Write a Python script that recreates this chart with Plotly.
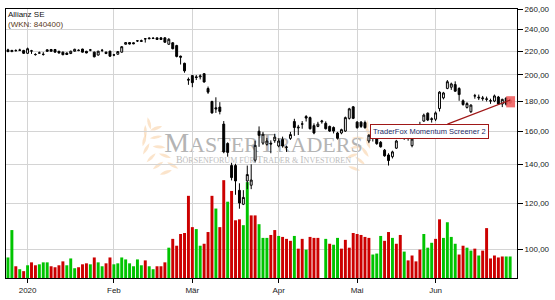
import math
import pandas as pd
import plotly.graph_objects as go

# ---------------- data ----------------
holidays = ["2019-12-24", "2019-12-25", "2019-12-26", "2019-12-31", "2020-01-01",
            "2020-04-10", "2020-04-13", "2020-05-01"]
dates = [d.strftime("%Y-%m-%d") for d in pd.bdate_range("2019-12-19", "2020-06-26")
         if d.strftime("%Y-%m-%d") not in holidays]

opens = [221, 219.5, 220.3, 220.8, 220.5, 218, 220, 217, 218.2, 217,
         221, 221.3, 221.3, 219.8, 219, 218.2, 217.8, 219.8, 220.5, 221.7,
         219.7, 220.8, 219, 216.5, 220.5, 219, 219.8, 216.5, 217.2, 219,
         226, 227.5, 227.3, 229, 228.5, 231, 231, 231.5, 230.3, 231.8,
         231.8, 226, 227.3, 224.8, 215.5, 209.5, 196.5, 199.5, 198.5, 198.5,
         201, 189.5, 180, 175.5, 176, 164.5, 152.3, 139.5, 139.5, 126.4,
         119.6, 131.2, 129, 142.5, 159.9, 152.5, 151.8, 152.5, 154, 150.8,
         154.8, 150, 155.4, 166.2, 162, 164.5, 169.5, 168.8, 163.5, 163,
         166, 165, 163, 162.3, 158.8, 158.8, 160, 168.3, 176.2, 165.8,
         165.8, 165.5, 153.8, 155.8, 155, 153, 148.3, 145.5, 144.5, 149.5,
         156, 158, 157, 151, 156, 162, 166.5, 171.8, 167.5, 167.7,
         175, 182.6, 189.6, 190.5, 192.5, 189.5, 180.5, 175.8, 172.8, 184,
         182.5, 182, 181.5, 180.3, 180.3, 183.2, 178.2, 182.5, 179]
highs = [222, 221, 221.5, 222, 221, 223, 221, 218, 219.5, 219,
         221.5, 221.8, 221.8, 220, 219.5, 218.8, 220.3, 222, 221.5, 222,
         220.2, 221.8, 219.5, 220.2, 221.8, 219.5, 220.3, 217.5, 220, 224.3,
         228, 228, 227.8, 229.8, 230.2, 231.3, 232.3, 232.5, 232.3, 232.5,
         232.5, 231.5, 228, 225.5, 216, 210, 198, 200, 200, 200.5,
         201.5, 191, 180.5, 183, 179.5, 166.5, 153, 141, 140.5, 130,
         126.5, 139.5, 140.2, 154, 163, 159.5, 155.7, 154.2, 158.3, 155.5,
         156.5, 151, 159.5, 168, 164, 166.5, 170.5, 169.5, 165, 166,
         167.3, 166.3, 163.5, 163, 159.5, 161.5, 169.5, 175.5, 176.8, 166.5,
         166.5, 166.8, 158, 157, 155.8, 153.8, 149, 146.5, 148, 154.5,
         161, 160, 159, 156, 163, 166, 171.5, 172.3, 169, 173,
         187.5, 187, 196, 194, 195, 190.5, 181.5, 179.5, 178, 185.5,
         185, 184, 183.5, 182, 185, 184, 182, 183, 182]
lows = [219, 219, 219.5, 220, 217.5, 217.5, 217.5, 216, 218, 216,
        219.5, 219.5, 218.7, 218, 216.3, 216.5, 217.3, 219.5, 219.8, 218.7,
        218, 219.8, 214.5, 216, 219, 217.3, 215, 215.5, 216.8, 218.5,
        225.7, 225.8, 226, 228, 228, 227.5, 230.5, 230.7, 230, 230,
        227.3, 225.5, 221.5, 214.5, 208.5, 201.8, 192.3, 190.5, 196, 196.5,
        194, 185.5, 171.5, 172, 171, 146.5, 144.5, 131.5, 124.2, 117.5,
        119.2, 127, 127, 141.2, 150.3, 151.5, 151, 146.5, 152.7, 150,
        149.8, 147.3, 154.5, 157, 157.5, 161.5, 166.2, 161, 158, 162.5,
        164.8, 161, 159.5, 158.5, 154.7, 158, 159.5, 167.5, 167.8, 161.5,
        162, 161.5, 152.5, 153.5, 151.5, 149.8, 144.5, 139.5, 143.5, 149,
        155, 154.5, 154, 150, 155.5, 161, 166, 166.5, 165.5, 166.5,
        173, 181.5, 189, 188.5, 187, 180.5, 177, 175, 172, 182,
        181, 180.5, 180, 178.3, 179.5, 177.8, 176, 177, 178.5]
closes = [219.5, 220.5, 220.4, 220.7, 218, 222, 220.1, 216.9, 218.3, 217.1,
          219.8, 219.8, 219, 218.2, 216.8, 217, 219.8, 221.5, 220.6, 219,
          218.3, 220.9, 215, 219.8, 220.6, 217.8, 215.5, 216.6, 219.5, 223.8,
          227.5, 226.2, 226.5, 229.1, 229.2, 230.9, 231.5, 231.3, 231.8, 230.3,
          227.8, 230.5, 222, 215.3, 214.7, 203.3, 196, 194, 198, 199.2,
          194.5, 186.8, 172, 174.8, 173, 147.3, 147, 133, 131.2, 120.2,
          122.9, 134.6, 131.7, 151.2, 157.3, 158, 153.8, 152, 156.2, 153.8,
          150.8, 150.1, 157.8, 162.3, 162.5, 164.6, 168.5, 161.5, 158.8, 164.5,
          166.5, 161.5, 160, 160, 155.5, 160.9, 168.8, 174.8, 168.3, 162.2,
          163, 162.2, 157.4, 155.5, 152.2, 150.3, 145, 142.3, 147.3, 153.8,
          160, 155.5, 156, 155, 162, 164, 170.5, 167.2, 168, 172,
          186.8, 186.2, 194.7, 193, 187.5, 185, 177.8, 178.5, 177.4, 184.1,
          183, 182.5, 181.8, 180.5, 184, 178.2, 181.5, 178, 181]
# volume in thousand shares
volume = [525, 1225, 300, 225, 175, 325, 400, 325, 350, 400,
          400, 300, 275, 325, 425, 325, 500, 250, 275, 350,
          375, 350, 525, 400, 300, 375, 525, 350, 375, 525,
          475, 375, 300, 475, 325, 450, 300, 225, 300, 300,
          400, 775, 1000, 825, 1125, 1150, 2100, 1300, 1250, 825,
          875, 1175, 2100, 1775, 1300, 2500, 1950, 2225, 1475, 1500,
          1350, 2450, 1600, 1600, 1375, 1025, 1025, 1100, 1225, 1075,
          1050, 1000, 950, 1075, 750, 1000, 725, 1050, 1025, 1025,
          0, 1000, 875, 850, 1025, 750, 975, 775, 1150, 1125,
          1100, 1050, 1025, 600, 625, 1075, 950, 1175, 1025, 875,
          1100, 675, 450, 575, 425, 725, 1125, 775, 900, 1000,
          1500, 1025, 1425, 1050, 875, 600, 825, 775, 700, 750,
          575, 700, 1275, 500, 575, 525, 550, 550, 550]
# volume bar direction (g = up, r = down)
vol_dir = list("ggrgrgrrgggrrrrgggrrrgrggrrgggggggg"
               "rggrrrgrrrrrrggrrrgrrgrrrggrrgggrrgrrr"
               "grrgrrrggrggrrrrrrrrgggrrgrrgrrrrgggrr"
               "ggggrrggrgrrrrrrggrgrgrggg")

month_ticks = ["2020-01-02", "2020-02-03", "2020-03-02", "2020-04-01", "2020-05-04", "2020-06-01"]
month_labels = ["2020", "Feb", "Mär", "Apr", "Mai", "Jun"]
price_ticks = [100, 120, 140, 160, 180, 200, 220, 240, 260]

n = len(dates)
assert all(len(a) == n for a in (opens, highs, lows, closes, volume)), \
    [len(a) for a in (dates, opens, highs, lows, closes, volume, vol_dir)]
vol_dir = (vol_dir + ["g"] * n)[:n]
xi = list(range(n))                      # trading-day index of each date
tick_idx = [dates.index(d) for d in month_ticks]

# ---------------- layout geometry ----------------
W, H = 555, 300
ML, MR, MT, MB = 5, 29, 5, 20
PW, PH = W - ML - MR, H - MT - MB


def px2paper(px, py):
    return (px - ML) / PW, 1 - (py - MT) / PH


GREEN = "#00c400"
RED = "#cc0000"

fig = go.Figure()
fig.add_trace(go.Bar(
    x=xi, y=volume, yaxis="y",
    marker=dict(color=[GREEN if d == "g" else RED for d in vol_dir], line=dict(width=0)),
    hoverinfo="skip", showlegend=False))

# highlight of the last candle (drawn under the candles)
last = n - 1
hx0, hx1 = last - 1.0, last + 1.25
hy0, hy1 = lows[last] * 0.985, highs[last] * 1.01
fig.add_trace(go.Scatter(
    x=[hx0, hx1, hx1, hx0, hx0], y=[hy0, hy0, hy1, hy1, hy0], yaxis="y2",
    mode="lines", fill="toself", fillcolor="rgba(240,95,95,0.9)", line=dict(width=0),
    hoverinfo="skip", showlegend=False))

fig.add_trace(go.Candlestick(
    x=xi, open=opens, high=highs, low=lows, close=closes, yaxis="y2",
    increasing=dict(line=dict(color="black", width=1), fillcolor="white"),
    decreasing=dict(line=dict(color="black", width=1), fillcolor="black"),
    whiskerwidth=0, hoverinfo="skip", showlegend=False))

shapes = []
# watermark laurel leaves (decoration)
leaves_left = [(168, 172, 200), (160, 165, 215), (153, 157, 225), (148, 148, 240), (146, 139, 255),
               (147, 130, 270), (151, 122, 285), (175, 165, 150), (167, 155, 160), (161, 146, 175),
               (158, 136, 190), (158, 127, 200)]
leaves_right = [(360, 168, 340), (366, 160, 320), (371, 151, 305), (374, 142, 290), (375, 133, 280),
                (373, 125, 265), (358, 155, 20), (362, 146, 10), (364, 137, 0)]
for cx, cy, ang in leaves_left + leaves_right:
    a = math.radians(ang)
    ux, uy = math.cos(a), -math.sin(a)
    nx, ny = -uy, ux
    L, Wd = 6.5, 3.2
    p1 = (cx - L * ux, cy - L * uy)
    p2 = (cx + L * ux, cy + L * uy)
    c1 = (cx + Wd * nx, cy + Wd * ny)
    c2 = (cx - Wd * nx, cy - Wd * ny)
    P = [px2paper(*p) for p in (p1, c1, p2, c2)]
    path = (f"M {P[0][0]:.4f},{P[0][1]:.4f} Q {P[1][0]:.4f},{P[1][1]:.4f} {P[2][0]:.4f},{P[2][1]:.4f} "
            f"Q {P[3][0]:.4f},{P[3][1]:.4f} {P[0][0]:.4f},{P[0][1]:.4f} Z")
    shapes.append(dict(type="path", xref="paper", yref="paper", path=path,
                       fillcolor="rgba(247,205,160,0.55)", line=dict(width=0), layer="below"))

# watermark texts (below the traces)
x0p, y0p = px2paper(165, 125)
x1p, y1p = px2paper(370, 151)
shapes.append(dict(type="rect", xref="paper", yref="paper", x0=x0p, x1=x1p, y0=y1p, y1=y0p,
                   line=dict(width=0), fillcolor="rgba(0,0,0,0)", layer="below",
                   label=dict(text="M<span style='font-size:22px'>ASTER</span>T<span style='font-size:22px'>RADERS</span>",
                              font=dict(family="Liberation Serif", size=28, color="#b4b4b4"),
                              textposition="middle center")))
x0p, y0p = px2paper(165, 152)
x1p, y1p = px2paper(370, 163)
shapes.append(dict(type="rect", xref="paper", yref="paper", x0=x0p, x1=x1p, y0=y1p, y1=y0p,
                   line=dict(width=0), fillcolor="rgba(0,0,0,0)", layer="below",
                   label=dict(text="B<span style='font-size:8px'>ÖRSENFORUM FÜR </span>T<span style='font-size:8px'>RADER &amp; </span>I<span style='font-size:8px'>NVESTOREN</span>",
                              font=dict(family="Liberation Serif", size=10, color="#bcbcbc"),
                              textposition="middle center")))

annotations = [
    dict(xref="paper", yref="paper", x=px2paper(6, 0)[0], y=1.0, xanchor="left", yanchor="top",
         text="Allianz SE<br><span style='color:#5a3a1a'>(WKN: 840400)</span>", align="left",
         showarrow=False, font=dict(family="Liberation Sans", size=8, color="#111"), borderpad=0),
    dict(x=last, y=math.log10(closes[last]), xref="x", yref="y2",
         text="TraderFox Momentum Screener 2", showarrow=True, arrowhead=0, arrowwidth=1.2,
         arrowcolor="#a01818", ax=-81, ay=31, bgcolor="white", bordercolor="#a01818",
         borderwidth=1, borderpad=2, font=dict(family="Liberation Sans", size=7.5, color="#1c2a66")),
]

grid = "#d4d4d4"
fig.update_layout(
    width=W, height=H, margin=dict(l=ML, r=MR, t=MT, b=MB),
    paper_bgcolor="white", plot_bgcolor="white",
    bargap=0.25, boxgap=0.3, hovermode=False, showlegend=False,
    font=dict(family="Liberation Sans", size=8, color="#222"),
    xaxis=dict(type="linear", range=[-0.5, n + 0.75], rangeslider=dict(visible=False),
               tickmode="array", tickvals=tick_idx, ticktext=month_labels,
               ticks="outside", ticklen=4, tickcolor="black", showgrid=True, gridcolor=grid,
               gridwidth=1, showline=True, linecolor="black", linewidth=1, mirror=True,
               tickfont=dict(size=8, color="#222"), zeroline=False),
    yaxis=dict(range=[0, 6875], visible=False, showgrid=False, fixedrange=True),
    yaxis2=dict(type="log", overlaying="y", side="right",
                range=[math.log10(89.2), math.log10(260)],
                tickmode="array", tickvals=price_ticks,
                ticktext=[f"{v:.2f}".replace(".", ",") for v in price_ticks],
                ticks="outside", ticklen=5, tickcolor="black", showgrid=True, gridcolor=grid,
                gridwidth=1, showline=True, linecolor="black", linewidth=1, mirror=True,
                tickfont=dict(size=8, color="#222"), zeroline=False),
    shapes=shapes, annotations=annotations,
)

fig.write_html("out.html", config={"displayModeBar": False, "staticPlot": True})
